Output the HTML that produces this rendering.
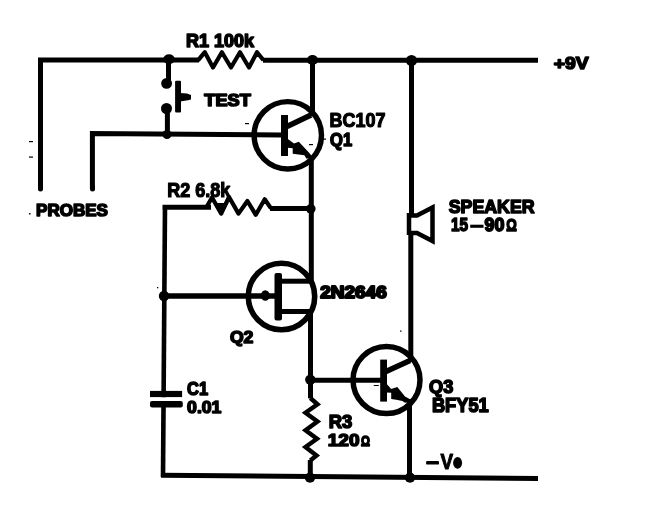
<!DOCTYPE html>
<html><head><meta charset="utf-8"><title>Continuity tester circuit</title>
<style>
html,body{margin:0;padding:0;background:#fff;}
body{width:648px;height:509px;overflow:hidden;}
svg{display:block;}
text{font-family:"Liberation Sans",sans-serif;font-weight:bold;fill:#000;stroke:#000;stroke-linejoin:round;}
</style></head>
<body>
<svg style="will-change:transform" width="648" height="509" viewBox="0 0 648 509">
<rect width="648" height="509" fill="#fff"/>
<g fill="none" stroke="#000" stroke-width="5" stroke-linecap="butt" stroke-linejoin="miter">
  <!-- top rail + left probe -->
  <path d="M40.5 189 V60 H199"/>
  <path stroke-linecap="round" d="M40.5 187 V189"/>
  <path d="M263 60.3 H538"/>
  <!-- R1 -->
  <path stroke-width="4.2" stroke-linejoin="round" d="M198 60.3 L204.8 52.2 L213 67.5 L221.9 52.2 L231 67.5 L240 52.2 L249 67.5 L257 52.2 L263.5 60.3"/>
  <!-- second probe -->
  <path d="M92.4 189 V133.4 L281 135"/>
  <path stroke-linecap="round" d="M92.5 187 V189"/>
  <!-- switch -->
  <path d="M168.5 60 V80"/>
  <path d="M167.4 108 V134"/>
  <!-- Q1 collector vertical -->
  <path d="M312.5 60 V116"/>
  <!-- right vertical (speaker) -->
  <path d="M411.5 60 V215"/>
  <path d="M410.8 233 V362"/>
  <!-- Q1 emitter down to Q2 -->
  <path d="M311.3 157 V281"/>
  <!-- R2 line -->
  <path d="M311 208.6 L270 208.4"/>
  <path d="M211 207.3 H162.7"/>
  <path stroke-width="4.6" d="M165 205 L163 477"/>
  <path stroke-width="4.2" stroke-linejoin="round" d="M206 208 L212 197.5 L221.2 213.6 L229 197 L238.5 213.6 L247.4 201 L255.8 214.8 L264.7 199.2 L271 208.4"/>
  <!-- Q2 emitter -->
  <path stroke-width="5.6" d="M164 296 H275"/>
  <!-- Q2 B2 B1 -->
  <path d="M280 281.2 H311.3"/>
  <path d="M280 311.6 H313"/>
  <path d="M310.5 309 V398.4"/>
  <!-- Q3 base -->
  <path d="M310 380.2 H381"/>
  <!-- R3 -->
  <path stroke-width="4.4" d="M310.3 398 L317.5 404.3 L305.5 412.8 L317.5 421.5 L305.5 430.3 L317 438.8 L305.5 447 L316.5 455.5 L310.3 460.5"/>
  <path d="M310.3 460 V477"/>
  <!-- Q3 emitter vertical -->
  <path d="M409.5 399 V477.5"/>
  <!-- bottom rail -->
  <path d="M161 475.3 L538 478.4"/>
  <!-- transistor circles -->
  <circle cx="287.8" cy="135.3" r="33.7" stroke-width="5.4"/>
  <circle cx="281.5" cy="296.5" r="33.2" stroke-width="5.6"/>
  <circle cx="386.5" cy="380.1" r="33.5" stroke-width="5.5"/>
  <!-- Q1 collector/emitter -->
  <path stroke-width="5.6" d="M287 126.5 L311 115"/>
  <!-- Q3 collector/emitter -->
  <path stroke-width="5.6" d="M386 371.5 L410 360.5"/>
  <!-- speaker -->
  <path stroke-width="4.5" d="M409 213 V235 M409 215.5 H417 L432.5 207.5 V241 L417 233 H409"/>
</g>
<g fill="#000" stroke="none">
  <!-- junction dots -->
  <ellipse cx="169" cy="59.3" rx="5.8" ry="5"/>
  <ellipse cx="312.5" cy="60" rx="5.6" ry="5"/>
  <circle cx="411.5" cy="60.5" r="5.6"/>
  <circle cx="166.6" cy="83.4" r="5.4"/>
  <circle cx="166.5" cy="108.5" r="5.5"/>
  <circle cx="167" cy="134.5" r="4.5"/>
  <circle cx="310.8" cy="208.8" r="4.8"/>
  <circle cx="164" cy="296" r="5.2"/>
  <circle cx="310.3" cy="379.6" r="5.2"/>
  <circle cx="310" cy="477.7" r="5.1"/>
  <circle cx="410" cy="477.7" r="5.1"/>
  <!-- switch -->
  <rect x="175.1" y="80.8" width="5.9" height="31.7" rx="1"/>
  <path d="M180 92.9 L187 93.4 L191 95 L191 99.5 L188 100.2 L180 101.5 Z"/>
  <!-- Q1 base bar -->
  <rect x="281" y="115" width="7" height="41"/>
  <!-- Q2 base bar -->
  <rect x="274.5" y="273" width="7.5" height="47.5" rx="2"/>
  <!-- Q3 base bar -->
  <rect x="380.2" y="359.6" width="6.8" height="42"/>
  <!-- C1 plates -->
  <rect x="150" y="390.9" width="32.1" height="6.4"/>
  <rect x="150" y="401" width="32.8" height="6.5" rx="2"/>
  <!-- arrows -->
  <path d="M287.5 138.8 L294 143.6 L298.8 141.8 L309.6 153.2 L312.5 157 L306.5 158.8 L304.4 155.2 L292.7 153.8 L292.7 148.2 L287.5 147.8 Z"/>
  <path d="M386.5 383.8 L391.2 388.9 L397.3 386.9 L405 396.4 L409.6 398.9 L411.5 402 L405 402.8 L402.4 401 L396.3 399.7 L391.2 398.9 L391.2 392.8 L386.5 392.5 Z"/>
  <ellipse cx="265.3" cy="295.5" rx="4.4" ry="5.3"/>
  <!-- R2 blob -->
  <path d="M214 203 L228.5 203 L221.2 213.5 Z"/>
  <!-- speaker dash in 15-90 -->
  <rect x="470.2" y="224.7" width="13.3" height="3.1"/>
  <!-- -Ve -->
  <rect x="426.1" y="460.9" width="12.9" height="3.7" rx="1.2"/>
  <ellipse cx="457.6" cy="462.9" rx="4.5" ry="5.8"/>
  <!-- scan specks -->
  <rect x="29" y="141" width="4" height="1.2"/>
  <rect x="29" y="156.5" width="4" height="1.2"/>
  <rect x="29" y="213" width="1.5" height="1.5"/>
  <rect x="157" y="287" width="1.3" height="1.3"/>
  <rect x="245" y="123" width="4" height="1.2"/>
  <rect x="309" y="144" width="4" height="1.2"/>
  <rect x="323" y="138.5" width="3" height="1.2"/>
  <rect x="373.8" y="385" width="5" height="1"/>
  <rect x="400" y="330.5" width="1.5" height="1.2"/>
</g>
<!-- clear gap in C1 -->
<rect x="149" y="397.3" width="35" height="3.7" fill="#fff"/>
<g>
  <text x="185.90" y="46.80" font-size="18.52" textLength="68.05" lengthAdjust="spacingAndGlyphs" stroke-width="1.6">R1 100k</text>
  <text x="553.65" y="68.70" font-size="16.98" textLength="34.90" lengthAdjust="spacingAndGlyphs" stroke-width="1.6">+9V</text>
  <text x="204.33" y="106.01" font-size="16.73" textLength="46.40" lengthAdjust="spacingAndGlyphs" stroke-width="1.6">TEST</text>
  <text x="329.60" y="126.80" font-size="19.33" textLength="55.85" lengthAdjust="spacingAndGlyphs" stroke-width="1.2">BC107</text>
  <text x="330.09" y="145.82" font-size="18.18" textLength="22.01" lengthAdjust="spacingAndGlyphs" stroke-width="1.6">Q1</text>
  <text x="36.09" y="216.01" font-size="16.73" textLength="71.82" lengthAdjust="spacingAndGlyphs" stroke-width="1.6">PROBES</text>
  <text x="167.13" y="196.73" font-size="19.56" textLength="63.08" lengthAdjust="spacingAndGlyphs" stroke-width="1.2">R2 6.8k</text>
  <text x="448.71" y="212.87" font-size="18.93" textLength="85.87" lengthAdjust="spacingAndGlyphs" stroke-width="1.6">SPEAKER</text>
  <text x="451.05" y="230.70" font-size="18.43" textLength="17.05" lengthAdjust="spacingAndGlyphs" stroke-width="1.6">15</text>
  <text x="484.61" y="230.66" font-size="19.19" textLength="19.87" lengthAdjust="spacingAndGlyphs" stroke-width="1.8">90</text>
  <text x="506.30" y="230.70" font-size="16.22" textLength="10.55" lengthAdjust="spacingAndGlyphs" stroke-width="1.6">Ω</text>
  <text x="320.29" y="297.62" font-size="17.19" textLength="66.42" lengthAdjust="spacingAndGlyphs" stroke-width="2.0">2N2646</text>
  <text x="229.90" y="342.80" font-size="16.66" textLength="23.45" lengthAdjust="spacingAndGlyphs" stroke-width="1.6">Q2</text>
  <text x="187.09" y="395.01" font-size="18.43" textLength="21.01" lengthAdjust="spacingAndGlyphs" stroke-width="1.6">C1</text>
  <text x="187.09" y="412.87" font-size="17.23" textLength="34.30" lengthAdjust="spacingAndGlyphs" stroke-width="1.6">0.01</text>
  <text x="429.09" y="393.01" font-size="18.43" textLength="24.20" lengthAdjust="spacingAndGlyphs" stroke-width="1.6">Q3</text>
  <text x="431.92" y="411.52" font-size="19.43" textLength="56.84" lengthAdjust="spacingAndGlyphs" stroke-width="1.6">BFY51</text>
  <text x="328.71" y="428.01" font-size="18.43" textLength="23.58" lengthAdjust="spacingAndGlyphs" stroke-width="1.6">R3</text>
  <text x="327.74" y="446.32" font-size="17.35" textLength="31.76" lengthAdjust="spacingAndGlyphs" stroke-width="1.6">120</text>
  <text x="361.05" y="446.05" font-size="14.94" textLength="8.95" lengthAdjust="spacingAndGlyphs" stroke-width="1.6">Ω</text>
  <text x="440.50" y="468.50" font-size="21.16" textLength="12.60" lengthAdjust="spacingAndGlyphs" stroke-width="1.0">V</text>
</g>
</svg>
</body></html>
